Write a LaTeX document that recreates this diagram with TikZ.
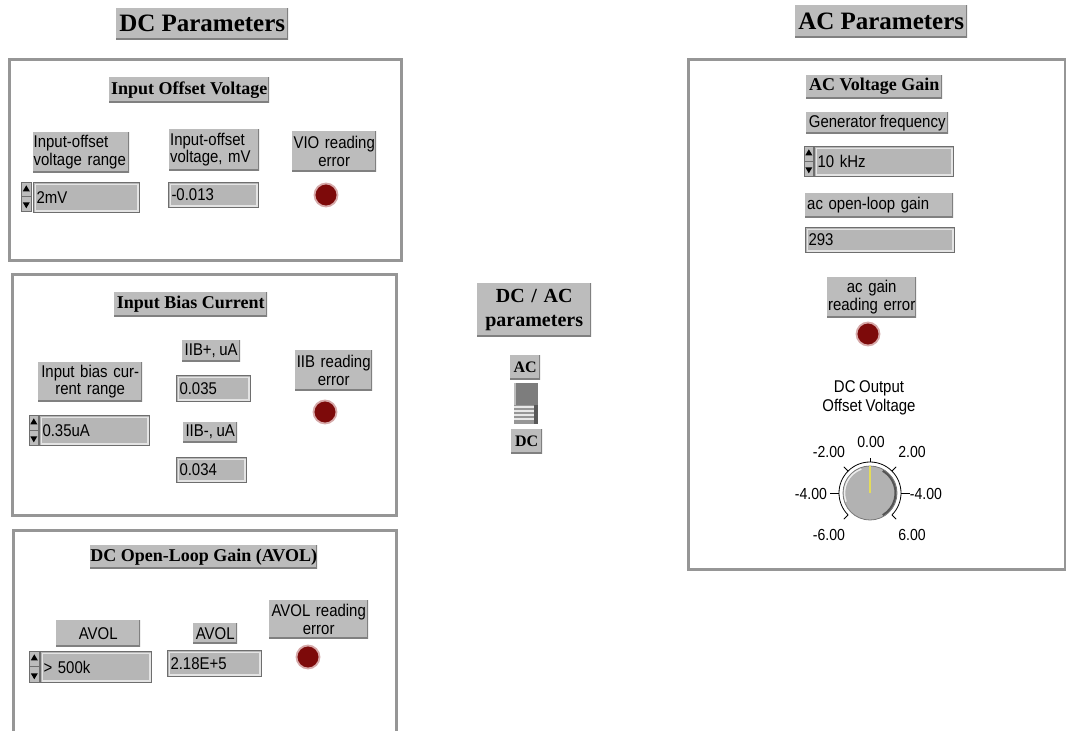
\documentclass[tikz,border=0pt]{standalone}
\usepackage{fontspec}
\setmainfont{Liberation Serif}
\newfontfamily\labfont[FakeStretch=0.88,WordSpace=0.85]{Liberation Sans}
\definecolor{lblgray}{RGB}{188,188,188}
\definecolor{lbldark}{RGB}{128,128,128}
\definecolor{valgray}{RGB}{182,182,182}
\definecolor{valdark}{RGB}{110,110,110}
\definecolor{vallight}{RGB}{228,228,228}
\definecolor{framegray}{RGB}{150,150,150}
\definecolor{ledred}{RGB}{125,10,10}
\definecolor{ledring}{RGB}{215,170,170}
\definecolor{knobgray}{RGB}{178,178,178}
\definecolor{knobedge}{RGB}{120,120,120}
\definecolor{swdark}{RGB}{125,125,125}
\definecolor{swmid}{RGB}{150,150,150}
\definecolor{swlight}{RGB}{232,232,232}
\definecolor{pointer}{RGB}{228,220,90}
\begin{document}
\begin{tikzpicture}[x=1pt,y=-1pt,
  wh/.style 2 args={minimum width=#1pt,minimum height=#2pt},
  tw/.style={text width=#1pt},
  lblbase/.style={rectangle,inner sep=0pt,fill=lblgray,text=black,anchor=north west,
    path picture={\draw[lbldark,line width=2pt] (path picture bounding box.south west) -- (path picture bounding box.south east) -- (path picture bounding box.north east);}},
  sans/.style={lblbase,font=\labfont\fontsize{17}{17.5}\selectfont},
  ttl/.style={lblbase,font=\bfseries\fontsize{18}{20}\selectfont},
  val/.style={rectangle,inner sep=0pt,anchor=north west,fill=valgray,draw=valdark,line width=1pt,
    font=\labfont\fontsize{17}{17.5}\selectfont,align=left,
    path picture={\draw[vallight,line width=1.2pt] ([xshift=1.6pt,yshift=-1.6pt]path picture bounding box.north west) rectangle ([xshift=-1.6pt,yshift=1.6pt]path picture bounding box.south east);}},
  spin/.style={rectangle,inner sep=0pt,anchor=north west,fill=lblgray,draw=valdark,line width=0.6pt,
    path picture={
      \fill[black] ([yshift=-3pt]path picture bounding box.north) -- ++(-3.5pt,-6pt) -- ++(7pt,0pt) -- cycle;
      \fill[black] ([yshift=3pt]path picture bounding box.south) -- ++(-3.5pt,6pt) -- ++(7pt,0pt) -- cycle;
      \draw[valdark,line width=0.8pt] (path picture bounding box.west) -- (path picture bounding box.east);}},
  panel/.style={rectangle,inner sep=0pt,anchor=north west,draw=framegray,line width=2.6pt},
  led/.style={circle,inner sep=0pt,fill=ledred,draw=ledring,line width=1.8pt,minimum size=23pt},
  dialnum/.style={inner sep=0pt,font=\labfont\fontsize{16}{17}\selectfont},
]
\clip (0,0) rectangle (1066,731);
\fill[white] (0,0) rectangle (1066,731);

% ---------- headings ----------
\node[lblbase,wh={172}{31},font=\bfseries\fontsize{25}{28}\selectfont] (tdc) at (116,8) {DC Parameters};
\node[lblbase,wh={172}{32},font=\bfseries\fontsize{25}{28}\selectfont] (tac) at (795,5) {AC Parameters};
\node[lblbase,wh={114}{53},tw={114},align=center,font=\bfseries\fontsize{20}{24}\selectfont] (tmid) at (477,283) {DC / AC\\parameters};

% ---------- panels ----------
\node[panel,wh={392}{201}] (p1) at (8,58) {};
\node[panel,wh={384}{241}] (p2) at (11,273) {};
\node[panel,wh={383}{240}] (p3) at (12,529) {};
\node[panel,wh={377}{510}] (p4) at (687,58) {};

% ---------- panel 1: input offset voltage ----------
\node[ttl,wh={160}{25}] (h1) at (109,77) {Input Offset Voltage};
\node[sans,wh={96}{40},tw={95},align=left] (l1a) at (33,132) {Input-offset\\voltage range};
\node[sans,wh={90}{41},tw={88},align=left] (l1b) at (169,129) {Input-offset\\voltage, mV};
\node[sans,wh={84}{40},tw={84},align=center] (l1c) at (292,131) {VIO reading\\error};
\node[spin,wh={10}{29}] (sp1) at (21,182) {};
\node[val,wh={106}{30},tw={100}] (v1a) at (33,182) {2mV};
\node[val,wh={90}{25},tw={84}] (v1b) at (168,182) {-0.013};
\node[led] (led1) at (326,195) {};

% ---------- panel 2: input bias current ----------
\node[ttl,wh={153}{24}] (h2) at (114,292) {Input Bias Current};
\node[sans,wh={104}{39},tw={104},align=center] (l2a) at (38,362) {Input bias cur-\\rent range};
\node[spin,wh={9}{30}] (sp2) at (29,415) {};
\node[val,wh={110}{30},tw={104}] (v2a) at (39,415) {0.35uA};
\node[sans,wh={58}{21}] (l2b) at (182,340) {IIB+, uA};
\node[val,wh={74}{26},tw={68}] (v2b) at (176,375) {0.035};
\node[sans,wh={54}{20}] (l2c) at (183,422) {IIB-, uA};
\node[val,wh={70}{25},tw={64}] (v2c) at (176,457) {0.034};
\node[sans,wh={77}{40},tw={77},align=center] (l2d) at (295,350) {IIB reading\\error};
\node[led] (led2) at (325,412) {};

% ---------- panel 3: DC open-loop gain ----------
\node[ttl,wh={227}{23}] (h3) at (90,545) {DC Open-Loop Gain (AVOL)};
\node[sans,wh={84}{26}] (l3a) at (56,620) {AVOL};
\node[spin,wh={10}{31}] (sp3) at (29,651) {};
\node[val,wh={111}{31},tw={105}] (v3a) at (40,651) {> 500k};
\node[sans,wh={44}{20}] (l3b) at (193,623) {AVOL};
\node[val,wh={94}{26},tw={88}] (v3b) at (167,650) {2.18E+5};
\node[sans,wh={99}{38},tw={99},align=center] (l3c) at (269,600) {AVOL reading\\error};
\node[led] (led3) at (308,657) {};

% ---------- DC/AC switch ----------
\node[lblbase,wh={30}{24},font=\bfseries\fontsize{16}{18}\selectfont] (swac) at (510,355) {AC};
\node[lblbase,wh={31}{24},font=\bfseries\fontsize{16}{18}\selectfont] (swdc) at (511,429) {DC};
\node[rectangle,inner sep=0pt,anchor=north west,wh={24}{41}] (sw) at (514,383) {};
\fill[swdark] (sw.north west) rectangle (538,405);
\fill[lblgray] (sw.north west) rectangle (516,405);
\fill[swmid] (514,405) rectangle (534,424);
\foreach \yy in {406,410,414,418} \fill[swlight] (514,\yy) rectangle (534,\yy+2);
\fill[black!65] (534,405) rectangle (sw.south east);

% ---------- panel 4: AC voltage gain ----------
\node[ttl,wh={136}{23}] (h4) at (806,75) {AC Voltage Gain};
\node[sans,wh={142}{21}] (l4a) at (806,112) {Generator frequency};
\node[spin,wh={9}{30}] (sp4) at (804,146) {};
\node[val,wh={139}{30},tw={133}] (v4a) at (814,146) {10 kHz};
\node[sans,wh={148}{24},tw={144},align=left] (l4b) at (805,193) {ac open-loop gain};
\node[val,wh={149}{25},tw={143}] (v4b) at (805,227) {293};
\node[sans,wh={89}{40},tw={89},align=center] (l4c) at (827,277) {ac gain\\reading error};
\node[led] (led4) at (868,334) {};

% ---------- dial ----------
\node[inner sep=0pt,align=center,font=\labfont\fontsize{17}{19}\selectfont] (dtitle) at (869,398) {DC Output\\Offset Voltage};
\node[circle,inner sep=0pt,minimum size=54pt,fill=knobgray,draw=knobedge,line width=0.8pt] (knob) at (870,493) {};
\begin{scope}[shift={(870,493)},yscale=-1]
  \draw[knobedge!70!black,line width=2pt] (-60:25.5) arc[start angle=-60,end angle=60,radius=25.5];
  \draw[white!85!gray,line width=1.5pt] (110:25.5) arc[start angle=110,end angle=200,radius=25.5];
  \draw[black,line width=0.8pt] (-45:31) arc[start angle=-45,end angle=225,radius=31];
  \foreach \a/\r in {225/37,180/40,135/37,90/35,45/37,0/40,-45/37}
    \draw[black,line width=0.8pt] (\a:31) -- (\a:\r);
\end{scope}
\draw[pointer,line width=1.6pt] (knob.center) -- (870,466);
\node[dialnum] (d0) at (871,442) {0.00};
\node[dialnum] (dm2) at (829,452) {-2.00};
\node[dialnum] (dp2) at (912,452) {2.00};
\node[dialnum] (dm4) at (811,494) {-4.00};
\node[dialnum] (dp4) at (926,494) {-4.00};
\node[dialnum] (dm6) at (829,535) {-6.00};
\node[dialnum] (dp6) at (912,535) {6.00};
\end{tikzpicture}
\end{document}
